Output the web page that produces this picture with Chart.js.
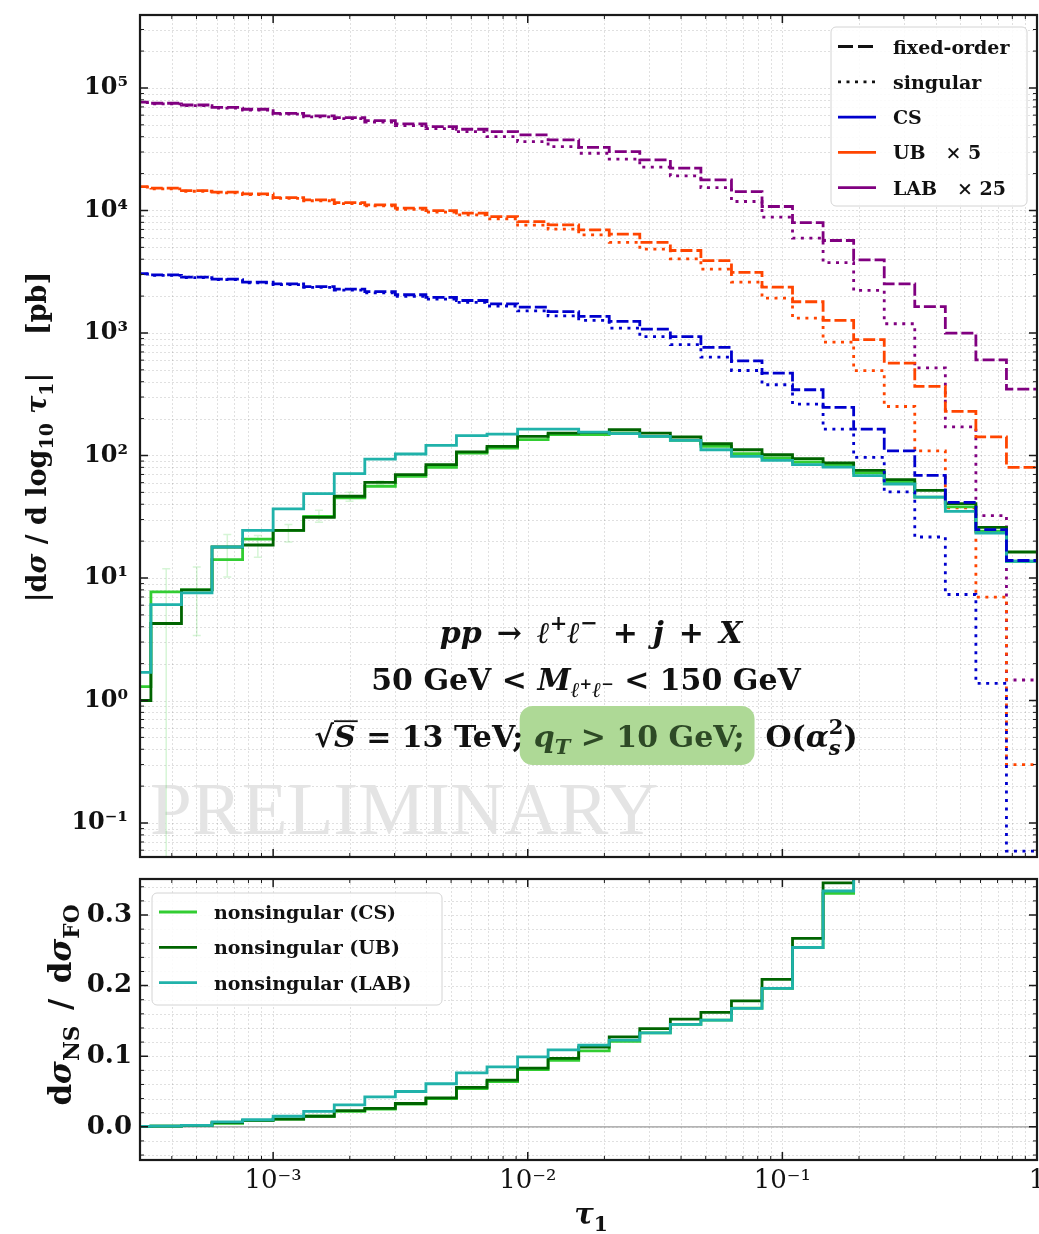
<!DOCTYPE html>
<html>
<head>
<meta charset="utf-8">
<script src="https://cdn.jsdelivr.net/npm/chart.js"></script>
<style>
  body { margin: 0; background: #fff; }
  #wrap { position: relative; width: 1039px; height: 1234px; }
  canvas { position: absolute; left: 0; }
</style>
</head>
<body>
<div id="wrap">
  <canvas id="main" width="1039" height="870" style="top:0"></canvas>
  <canvas id="ratio" width="1039" height="364" style="top:870px"></canvas>
</div>
<script>
const SERIF = '"DejaVu Serif", serif';

// bin edges in tau_1 (0.12 dex wide, first bin mostly outside the frame)
const tauEdges = [2.512e-4, 3.311e-4, 4.365e-4, 5.754e-4, 7.586e-4, 1.000e-3, 1.318e-3, 1.738e-3,
  2.291e-3, 3.020e-3, 3.981e-3, 5.248e-3, 6.918e-3, 9.120e-3, 1.202e-2, 1.585e-2, 2.089e-2,
  2.754e-2, 3.631e-2, 4.786e-2, 6.310e-2, 8.318e-2, 0.1096, 0.1445, 0.1905, 0.2512, 0.3311,
  0.4365, 0.5754, 0.7586, 1.0];

// |dsigma / dlog10 tau1| in pb, one value per bin
const csFixed = [3055, 2985, 2858, 2754, 2600, 2518, 2393, 2280, 2178, 2051, 1950, 1841, 1730, 1626, 1496,
  1365, 1242, 1076, 935, 762, 593, 470, 344, 247, 164, 109, 68.9, 41.5, 24.8, 13.9];
const csSing = [3020, 2950, 2825, 2723, 2570, 2483, 2355, 2234, 2128, 1995, 1892, 1778, 1660, 1514, 1380,
  1265, 1096, 935, 802, 635, 494, 378, 263, 164, 96.6, 50.4, 21.6, 7.33, 1.38, 0.059];
const ubFixed = [15670, 15200, 14520, 14090, 13650, 12740, 12190, 11590, 11120, 10450, 9980, 9506, 8913, 8110, 7638,
  6950, 6412, 5483, 4710, 3899, 3119, 2366, 1799, 1265, 881, 568, 366, 229, 142, 80];
const ubSing = [15490, 15030, 14350, 13900, 13460, 12530, 12000, 11380, 10890, 10190, 9705, 9204, 8551, 7586, 7031,
  6310, 5483, 4831, 4027, 3319, 2600, 1928, 1321, 843, 492, 251, 109, 37.3, 6.97, 0.30];
const labFixed = [76740, 74990, 72610, 69500, 66990, 62090, 59160, 57280, 54080, 50820, 48310, 46030, 44060, 41400, 37670,
  32730, 30200, 25880, 22130, 17780, 14260, 10770, 7962, 5689, 3954, 2518, 1644, 998, 604, 348];
const labSing = [75860, 74130, 71610, 68550, 66070, 61090, 58080, 56100, 52720, 49320, 46560, 44060, 40090, 36480, 33190,
  29310, 26240, 22540, 19140, 15380, 11830, 8810, 5943, 3758, 2223, 1189, 518, 171, 32.3, 1.47];

const nsCs = [1.3, 7.7, 8.0, 14.1, 20.8, 24.5, 31.9, 45, 56.1, 67.6, 80, 104.8, 115, 134.6, 148,
  148, 152, 143, 133, 118.6, 103.5, 95.5, 88.5, 83, 72, 60.4, 45.8, 38, 24.1, 13.7];
const nsUb = [1.0, 4.25, 8.0, 17.9, 18.6, 24.5, 31.3, 46.5, 60.4, 69.7, 84.1, 106.9, 118.6, 143.2, 152.4,
  154.2, 162.2, 152.4, 141.6, 124.7, 111.4, 101.4, 94.2, 86.9, 75.7, 63.5, 51.9, 40.5, 25.9, 16.3];
const nsLab = [1.7, 6.07, 7.55, 17.9, 24.5, 36.6, 48.9, 71.1, 93.5, 102.8, 121, 145.2, 149.6, 164.4, 164.4,
  155, 150.7, 143.2, 132.7, 111.4, 98.4, 91.2, 84.1, 80.5, 68.4, 58.5, 45.8, 35, 23.3, 13.7];

// MC uncertainty band of nonsingular (CS), only the first bins
const nsCsErrLo = [null, 0.01, 3.4, 10.2, 14.8, 19.7, 28.5, 42.4, 58];
const nsCsErrHi = [null, 11.9, 12.3, 22.6, 22.2, 27.3, 35.7, 50, 62];

// dsigma_NS / dsigma_FO
const ratioCs = [0.0005, 0.001, 0.002, 0.005, 0.009, 0.011, 0.015, 0.022, 0.025, 0.032, 0.040, 0.054, 0.064, 0.081, 0.094,
  0.1077, 0.121, 0.133, 0.145, 0.151, 0.168, 0.196, 0.254, 0.3306, 0.44, 0.55, 0.66, 0.92, 0.97, 0.99];
const ratioUb = [0.0005, 0.001, 0.002, 0.006, 0.009, 0.011, 0.015, 0.023, 0.026, 0.033, 0.041, 0.056, 0.066, 0.083, 0.097,
  0.113, 0.1275, 0.139, 0.1526, 0.162, 0.1785, 0.2088, 0.267, 0.3456, 0.43, 0.56, 0.71, 0.88, 0.91, 1.0];
const ratioLab = [0.0005, 0.001, 0.002, 0.007, 0.010, 0.015, 0.022, 0.031, 0.0425, 0.050, 0.061, 0.0765, 0.085, 0.099, 0.109,
  0.1157, 0.1228, 0.133, 0.145, 0.151, 0.1677, 0.196, 0.254, 0.334, 0.43, 0.58, 0.70, 0.88, 0.96, 0.98];

// axes
const xMin = Math.pow(10, -3.5), xMax = 1;
const yMinTop = 0.0528, yMaxTop = 3.94e5;
const rMin = -0.047, rMax = 0.351;
const xMajor = [1e-3, 1e-2, 1e-1, 1];
const yMajorTop = [1e-1, 1, 10, 100, 1e3, 1e4, 1e5];
const ratioMajor = [0, 0.1, 0.2, 0.3];

function minorLog(e0, e1) {
  const out = [];
  for (let e = e0; e < e1; e++) for (let m = 2; m <= 9; m++) out.push(m * Math.pow(10, e));
  return out;
}
const xMinor = minorLog(-4, 0).filter(v => v >= xMin && v <= xMax);
const yMinorTop = minorLog(-2, 6).filter(v => v >= yMinTop && v <= yMaxTop);
const ratioMinor = [];
for (let i = -2; i <= 17; i++) if (i % 5) ratioMinor.push(i * 0.02);

const SUP = {'-': '⁻', '0': '⁰', '1': '¹', '2': '²', '3': '³', '4': '⁴', '5': '⁵'};
function powLabel(v) {
  const e = Math.round(Math.log10(v));
  return '10' + String(e).split('').map(c => SUP[c]).join('');
}

function stairs(vals) {
  const pts = vals.map((v, i) => ({x: tauEdges[i], y: v}));
  pts.push({x: tauEdges[vals.length], y: vals[vals.length - 1]});
  return pts;
}

const DASH = [12, 4], DOT = [3, 5.5];
function hist(vals, color, dash, order) {
  return {data: stairs(vals), borderColor: color, borderDash: dash || [], borderWidth: 2.8,
    stepped: 'before', pointRadius: 0, fill: false, order: order, borderCapStyle: 'butt'};
}

// ---------- text helpers ----------
const EN = '\u2002';
function fontOf(r, base) {
  return (r.it ? 'italic ' : '') + (r.w || 'bold') + ' ' + (base * (r.sz || 1)).toFixed(1) + 'px ' + SERIF;
}
function drawRuns(ctx, runs, x, y, base, align, color) {
  const xs = [];
  let w = 0;
  runs.forEach(r => {
    ctx.font = fontOf(r, base);
    xs.push(w);
    if (!r.keep) w += ctx.measureText(r.t).width;
  });
  const x0 = align === 'center' ? x - w / 2 : align === 'right' ? x - w : x;
  ctx.textAlign = 'left';
  ctx.textBaseline = 'alphabetic';
  runs.forEach((r, i) => {
    ctx.font = fontOf(r, base);
    ctx.fillStyle = r.col || color || '#111';
    ctx.fillText(r.t, x0 + xs[i], y - (r.dy || 0) * base);
  });
  return {x0: x0, w: w, xs: xs.map(v => v + x0)};
}
function roundRect(ctx, x, y, w, h, r) {
  ctx.beginPath();
  ctx.moveTo(x + r, y);
  ctx.arcTo(x + w, y, x + w, y + h, r);
  ctx.arcTo(x + w, y + h, x, y + h, r);
  ctx.arcTo(x, y + h, x, y, r);
  ctx.arcTo(x, y, x + w, y, r);
  ctx.closePath();
}
function drawLegend(ctx, L) {
  ctx.save();
  roundRect(ctx, L.x, L.y, L.w, L.h, 5);
  ctx.fillStyle = 'rgba(255,255,255,0.85)';
  ctx.fill();
  ctx.strokeStyle = '#d4d4d4';
  ctx.lineWidth = 1;
  ctx.stroke();
  L.rows.forEach((r, i) => {
    const yy = L.y + L.first + L.step * i;
    ctx.setLineDash(r.dash);
    ctx.strokeStyle = r.color;
    ctx.lineWidth = 2.8;
    ctx.beginPath();
    ctx.moveTo(L.x + 7, yy);
    ctx.lineTo(L.x + 45, yy);
    ctx.stroke();
    ctx.setLineDash([]);
    drawRuns(ctx, [{t: r.label}], L.x + 62, yy + 7, L.size, 'left');
  });
  ctx.restore();
}

// ---------- grid, frame, inward ticks ----------
function drawGrid(chart, xMaj, xMin_, yMaj, yMin_) {
  const {ctx, chartArea: a} = chart;
  const sx = chart.scales.x, sy = chart.scales.y;
  ctx.save();
  ctx.beginPath();
  ctx.rect(a.left, a.top, a.width, a.height);
  ctx.clip();
  ctx.strokeStyle = 'rgba(0,0,0,0.12)';
  ctx.lineWidth = 1;
  ctx.setLineDash([2, 2]);
  ctx.beginPath();
  xMaj.concat(xMin_).forEach(v => {
    const p = Math.round(sx.getPixelForValue(v)) + 0.5;
    ctx.moveTo(p, a.top); ctx.lineTo(p, a.bottom);
  });
  yMaj.concat(yMin_).forEach(v => {
    const p = Math.round(sy.getPixelForValue(v)) + 0.5;
    ctx.moveTo(a.left, p); ctx.lineTo(a.right, p);
  });
  ctx.stroke();
  ctx.restore();
}
function drawFrame(chart, xMaj, xMin_, yMaj, yMin_) {
  const {ctx, chartArea: a} = chart;
  const sx = chart.scales.x, sy = chart.scales.y;
  ctx.save();
  ctx.strokeStyle = '#1a1a1a';
  ctx.setLineDash([]);
  const xt = (list, len, lw) => {
    ctx.lineWidth = lw;
    ctx.beginPath();
    list.forEach(v => {
      const p = sx.getPixelForValue(v);
      ctx.moveTo(p, a.bottom); ctx.lineTo(p, a.bottom - len);
      ctx.moveTo(p, a.top); ctx.lineTo(p, a.top + len);
    });
    ctx.stroke();
  };
  const yt = (list, len, lw) => {
    ctx.lineWidth = lw;
    ctx.beginPath();
    list.forEach(v => {
      const p = sy.getPixelForValue(v);
      ctx.moveTo(a.left, p); ctx.lineTo(a.left + len, p);
      ctx.moveTo(a.right, p); ctx.lineTo(a.right - len, p);
    });
    ctx.stroke();
  };
  xt(xMaj, 8, 1.5); xt(xMin_, 4, 1);
  yt(yMaj, 8, 1.5); yt(yMin_, 4, 1);
  ctx.lineWidth = 2.2;
  ctx.strokeRect(a.left, a.top, a.width, a.height);
  ctx.restore();
}

// ---------- main panel ----------
const mainDecor = {
  id: 'mainDecor',
  beforeDatasetsDraw(chart) {
    const {ctx, chartArea: a} = chart;
    const sx = chart.scales.x, sy = chart.scales.y;
    drawGrid(chart, xMajor, xMinor, yMajorTop, yMinorTop);
    ctx.save();
    ctx.beginPath();
    ctx.rect(a.left, a.top, a.width, a.height);
    ctx.clip();
    ctx.font = '75px "Liberation Serif", serif';
    ctx.fillStyle = '#e4e4e4';
    ctx.textAlign = 'left';
    ctx.textBaseline = 'alphabetic';
    ctx.fillText('PRELIMINARY', a.left + 10, a.bottom - 23);
    // faint error bars on nonsingular (CS)
    ctx.strokeStyle = 'rgba(50,205,50,0.2)';
    ctx.lineWidth = 1.5;
    ctx.beginPath();
    nsCsErrHi.forEach((hi, i) => {
      if (hi == null) return;
      const xc = sx.getPixelForValue(Math.sqrt(tauEdges[i] * tauEdges[i + 1]));
      const y1 = sy.getPixelForValue(hi);
      const lo = nsCsErrLo[i];
      const y0 = lo > yMinTop ? sy.getPixelForValue(lo) : a.bottom + 2;
      ctx.moveTo(xc, y0); ctx.lineTo(xc, y1);
      ctx.moveTo(xc - 4, y1); ctx.lineTo(xc + 4, y1);
      if (lo > yMinTop) { ctx.moveTo(xc - 4, y0); ctx.lineTo(xc + 4, y0); }
    });
    ctx.stroke();
    ctx.restore();
  },
  afterDraw(chart) {
    const {ctx, chartArea: a} = chart;
    ctx.save();
    const B = 30;
    drawRuns(ctx, [
      {t: 'pp', it: 1}, {t: EN + '→' + EN}, {t: 'ℓ', it: 1}, {t: '+', sz: 0.7, dy: 0.42}, {t: 'ℓ', it: 1},
      {t: '−', sz: 0.7, dy: 0.42}, {t: EN + '+' + EN}, {t: 'j', it: 1}, {t: EN + '+' + EN}, {t: 'X', it: 1}
    ], 591, 643, B, 'center');
    drawRuns(ctx, [
      {t: '50 GeV < '}, {t: 'M', it: 1}, {t: 'ℓ', it: 1, sz: 0.7, dy: -0.22}, {t: '+', sz: 0.5, dy: 0.05},
      {t: 'ℓ', it: 1, sz: 0.7, dy: -0.22}, {t: '−', sz: 0.5, dy: 0.05}, {t: ' < 150 GeV'}
    ], 586, 690, B, 'center');
    const line3 = [
      {t: '√'}, {t: 'S', it: 1}, {t: ' = 13 TeV; '}, {t: 'q', it: 1}, {t: 'T', it: 1, sz: 0.7, dy: -0.22},
      {t: ' > 10 GeV;'}, {t: '  O('}, {t: 'α', it: 1}, {t: 's', it: 1, sz: 0.7, dy: -0.25, keep: 1},
      {t: '2', sz: 0.7, dy: 0.45}, {t: ')'}
    ];
    // measure first to place the highlight box behind q_T > 10 GeV;
    ctx.globalAlpha = 0;
    const m = drawRuns(ctx, line3, 586, 747, B, 'center');
    ctx.globalAlpha = 1;
    const bx0 = m.xs[3] - 14, bx1 = m.xs[6] + 10;
    roundRect(ctx, bx0, 706, bx1 - bx0, 59, 13);
    ctx.fillStyle = 'rgb(174,217,150)';
    ctx.fill();
    line3[3].col = line3[4].col = line3[5].col = '#2e4a26';
    const d = drawRuns(ctx, line3, 586, 747, B, 'center');
    // overline of sqrt
    ctx.font = fontOf({it: 1}, B);
    const sw = ctx.measureText('S').width;
    ctx.strokeStyle = '#111';
    ctx.lineWidth = 1.8;
    ctx.beginPath();
    ctx.moveTo(d.xs[1], 747 - B * 0.86);
    ctx.lineTo(d.xs[1] + sw + 2, 747 - B * 0.86);
    ctx.stroke();

    drawLegend(ctx, {
      x: a.right - 206, y: a.top + 12, w: 196, h: 179, first: 19.5, step: 35.3, size: 19,
      rows: [
        {color: '#111', dash: [15, 5], label: 'fixed-order'},
        {color: '#111', dash: DOT, label: 'singular'},
        {color: 'mediumblue', dash: [], label: 'CS'},
        {color: 'orangered', dash: [], label: 'UB   × 5'},
        {color: 'purple', dash: [], label: 'LAB   × 25'}
      ]
    });

    // y title
    ctx.translate(37, 437);
    ctx.rotate(-Math.PI / 2);
    drawRuns(ctx, [
      {t: '|d'}, {t: 'σ', it: 1}, {t: ' / d log'}, {t: '10', sz: 0.7, dy: -0.25}, {t: ' '}, {t: 'τ', it: 1},
      {t: '1', sz: 0.7, dy: -0.25}, {t: '|    [pb]'}
    ], 0, 9, 27, 'center');
    ctx.restore();
    drawFrame(chart, xMajor, xMinor, yMajorTop, yMinorTop);
  }
};

new Chart(document.getElementById('main'), {
  type: 'line',
  data: {
    datasets: [
      hist(labFixed, 'purple', DASH, 11), hist(labSing, 'purple', DOT, 12),
      hist(ubFixed, 'orangered', DASH, 9), hist(ubSing, 'orangered', DOT, 10),
      hist(nsCs, 'limegreen', null, 7), hist(nsUb, 'darkgreen', null, 6), hist(nsLab, 'lightseagreen', null, 5),
      hist(csFixed, 'mediumblue', DASH, 3), hist(csSing, 'mediumblue', DOT, 4)
    ]
  },
  options: {
    responsive: false, devicePixelRatio: 1, animation: false, events: [],
    layout: {padding: {top: 15, right: 2, bottom: 13, left: 0}},
    plugins: {legend: {display: false}, tooltip: {enabled: false}},
    scales: {
      x: {type: 'logarithmic', min: xMin, max: xMax, display: false},
      y: {
        type: 'logarithmic', min: yMinTop, max: yMaxTop,
        grid: {display: false, drawTicks: false}, border: {display: false},
        afterBuildTicks: s => { s.ticks = yMajorTop.map(v => ({value: v})); },
        afterFit: s => { s.width = 140; s.paddingTop = 0; s.paddingBottom = 0; },
        ticks: {callback: v => powLabel(v), padding: 12, color: '#111', autoSkip: false,
          font: {family: SERIF, weight: 'bold', size: 24}}
      }
    }
  },
  plugins: [mainDecor]
});

// ---------- ratio panel ----------
const ratioDecor = {
  id: 'ratioDecor',
  beforeDatasetsDraw(chart) {
    const {ctx, chartArea: a} = chart;
    drawGrid(chart, xMajor, xMinor, ratioMajor, ratioMinor);
    const p = chart.scales.y.getPixelForValue(0);
    ctx.save();
    ctx.strokeStyle = '#9a9a9a';
    ctx.lineWidth = 1.2;
    ctx.beginPath();
    ctx.moveTo(a.left, p); ctx.lineTo(a.right, p);
    ctx.stroke();
    ctx.restore();
  },
  afterDraw(chart) {
    const {ctx, chartArea: a} = chart;
    ctx.save();
    drawLegend(ctx, {
      x: a.left + 12, y: a.top + 14, w: 290, h: 112, first: 19, step: 35.3, size: 19,
      rows: [
        {color: 'limegreen', dash: [], label: 'nonsingular (CS)'},
        {color: 'darkgreen', dash: [], label: 'nonsingular (UB)'},
        {color: 'lightseagreen', dash: [], label: 'nonsingular (LAB)'}
      ]
    });
    drawRuns(ctx, [{t: 'τ', it: 1}, {t: '1', sz: 0.7, dy: -0.25}], 591, 354, 29, 'center');
    ctx.translate(62, 135);
    ctx.rotate(-Math.PI / 2);
    drawRuns(ctx, [
      {t: 'd'}, {t: 'σ', it: 1}, {t: 'NS', sz: 0.7, dy: -0.25}, {t: EN + '/' + EN + 'd'}, {t: 'σ', it: 1},
      {t: 'FO', sz: 0.7, dy: -0.25}
    ], 0, 9, 31, 'center');
    ctx.restore();
    drawFrame(chart, xMajor, xMinor, ratioMajor, ratioMinor);
  }
};

new Chart(document.getElementById('ratio'), {
  type: 'line',
  data: {
    datasets: [
      hist(ratioCs, 'limegreen', null, 3), hist(ratioUb, 'darkgreen', null, 2), hist(ratioLab, 'lightseagreen', null, 1)
    ]
  },
  options: {
    responsive: false, devicePixelRatio: 1, animation: false, events: [],
    layout: {padding: {top: 9, right: 2, bottom: 0, left: 0}},
    plugins: {legend: {display: false}, tooltip: {enabled: false}},
    scales: {
      x: {
        type: 'logarithmic', min: xMin, max: xMax,
        grid: {display: false, drawTicks: false}, border: {display: false},
        afterBuildTicks: s => { s.ticks = xMajor.map(v => ({value: v})); },
        afterFit: s => { s.height = 74; s.paddingLeft = 0; s.paddingRight = 0; },
        ticks: {callback: v => (v === 1 ? '1' : powLabel(v)), padding: 6, color: '#111', autoSkip: false,
          maxRotation: 0, font: {family: SERIF, size: 26}}
      },
      y: {
        type: 'linear', min: rMin, max: rMax,
        grid: {display: false, drawTicks: false}, border: {display: false},
        afterBuildTicks: s => { s.ticks = ratioMajor.map(v => ({value: v})); },
        afterFit: s => { s.width = 140; s.paddingTop = 0; s.paddingBottom = 0; },
        ticks: {callback: v => v.toFixed(1), padding: 8, color: '#111', autoSkip: false,
          font: {family: SERIF, weight: 'bold', size: 26}}
      }
    }
  },
  plugins: [ratioDecor]
});
</script>
</body>
</html>
